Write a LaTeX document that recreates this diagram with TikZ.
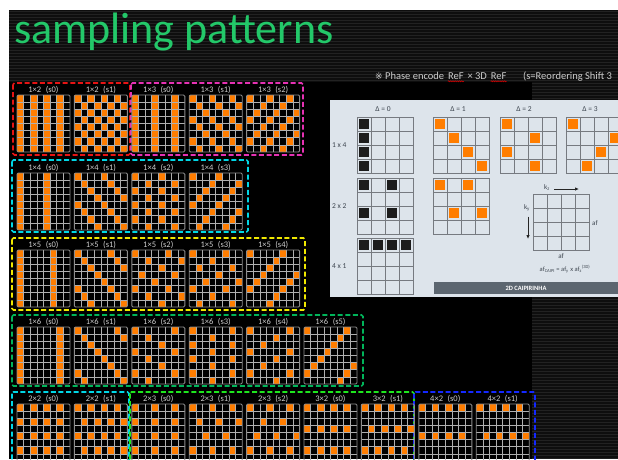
\documentclass[tikz,border=0pt]{standalone}
\usepackage{fontspec}
\setmainfont{Carlito}
\newfontfamily\symfont{DejaVu Sans}
\usetikzlibrary{arrows.meta,decorations.pathmorphing}

\definecolor{stripeA}{RGB}{14,14,14}
\definecolor{stripeB}{RGB}{34,34,34}
\definecolor{titlegreen}{RGB}{35,200,105}
\definecolor{smporange}{RGB}{255,125,0}
\definecolor{gridgray}{RGB}{175,175,175}
\definecolor{gridedge}{RGB}{140,140,140}
\definecolor{labgray}{RGB}{205,205,205}
\definecolor{boxred}{RGB}{230,20,20}
\definecolor{boxmagenta}{RGB}{230,50,180}
\definecolor{boxcyan}{RGB}{0,215,230}
\definecolor{boxyellow}{RGB}{240,232,0}
\definecolor{boxgreen}{RGB}{0,180,90}
\definecolor{boxlime}{RGB}{30,230,30}
\definecolor{boxblue}{RGB}{20,40,255}
\definecolor{panelbg}{RGB}{221,228,235}
\definecolor{panelline}{RGB}{118,122,128}
\definecolor{paneltext}{RGB}{60,68,78}
\definecolor{cellblack}{RGB}{28,28,28}
\definecolor{barfill}{RGB}{92,102,112}

% cell size of the 8x8 sampling grids
\def\cwd{6.625}
\def\cht{7.125}

% 8x8 sampling grid: #1 x, #2 y (top left), #3 row step, #4 column step, #5 shift, #6 caption
\newcommand\sgrid[6]{%
  \begin{scope}[shift={(#1,#2)}]
    \foreach \r in {0,...,7}{
      \foreach \c in {0,...,7}{
        \pgfmathtruncatemacro\hit{(mod(\r,#3)==0) && (mod(\c-#5*int(\r/#3)+60,#4)==0)}
        \ifnum\hit=1 \fill[smporange] (\c*\cwd,\r*\cht) rectangle ++(\cwd,\cht);\fi
      }}
    \foreach \k in {1,...,7}{
      \draw[gline] (\k*\cwd,0) -- (\k*\cwd,8*\cht);
      \draw[gline] (0,\k*\cht) -- (8*\cwd,\k*\cht);
    }
    \draw[gedge] (0,0) rectangle (8*\cwd,8*\cht);
    \node[glab] at (4*\cwd,-3) {#6};
  \end{scope}}

% 4x4 grid of the right-hand panel: #1 x, #2 y, #3 fill colour, #4 filled cells row/col
\newcommand\qgrid[4]{%
  \begin{scope}[shift={(#1,#2)}]
    \foreach \r/\c in {#4}{\fill[#3] (\c*14+1.8,\r*14+1.8) rectangle ++(10.4,10.4);}
    \foreach \k in {1,2,3}{
      \draw[qline] (\k*14,0) -- (\k*14,56);
      \draw[qline] (0,\k*14) -- (56,\k*14);
    }
    \draw[qline] (0,0) rectangle (56,56);
  \end{scope}}

\begin{document}
\begin{tikzpicture}[x=1pt,y=-1pt,
  gline/.style={gridgray,line width=0.6pt},
  gedge/.style={gridedge,line width=0.9pt,rounded corners=1.2pt},
  glab/.style={anchor=base,text=labgray,inner sep=0pt,font=\fontsize{8.5}{9}\selectfont},
  groupbox/.style={line width=1.6pt,dash pattern=on 5pt off 2.6pt,rounded corners=1.5pt},
  qline/.style={panelline,line width=1pt},
  ptext/.style={text=paneltext,inner sep=0pt,font=\fontsize{7.5}{8}\selectfont},
  ntext/.style={anchor=base west,text=labgray,inner sep=0pt,font=\fontsize{10.5}{12}\selectfont},
  spell/.style={red!85!black,line width=0.5pt,decorate,decoration={snake,amplitude=0.55pt,segment length=2.2pt}}]

\useasboundingbox (0,0) rectangle (618,459);
\clip (0,0) rectangle (618,459);

% page, striped backdrop and black content area
\fill[white] (0,0) rectangle (618,459);
\fill[stripeA] (9,10) rectangle (618,459);
\foreach \yy in {11,14,...,459}{\draw[stripeB,line width=1pt] (9,\yy) -- (618,\yy);}
\fill[black] (9,82) rectangle (532,459);

% title
\node[anchor=base west,text=titlegreen,inner sep=0pt,font=\fontsize{44}{44}\selectfont] (title) at (14,43) {sampling patterns};

% note line
\node[ntext] (n1) at (375,79.5) {{\symfont\fontsize{9}{10}\selectfont ※} Phase encode};
\node[ntext] (r1) at ([xshift=3.5pt]n1.base east) {ReF};
\node[ntext] (n2) at ([xshift=3.5pt]r1.base east) {× 3D};
\node[ntext] (r2) at ([xshift=3.5pt]n2.base east) {ReF};
\node[ntext] (n3) at (523,79.5) {(s=Reordering Shift 3};
\draw[spell] ([yshift=-1.8pt]r1.base west) -- ([yshift=-1.8pt]r1.base east);
\draw[spell] ([yshift=-1.8pt]r2.base west) -- ([yshift=-1.8pt]r2.base east);

% group frames
\draw[groupbox,boxred] (13,83) rectangle (130,155);
\draw[groupbox,boxmagenta] (131,83) rectangle (303,155);
\draw[groupbox,boxcyan] (12,160) rectangle (248,232);
\draw[groupbox,boxyellow] (12,238) rectangle (305,310);
\draw[groupbox,boxgreen] (12,315) rectangle (363,386);
\draw[groupbox,boxcyan] (12,392) rectangle (129,470);
\draw[groupbox,boxlime] (130,392) rectangle (414,470);
\draw[groupbox,boxblue] (414,392) rectangle (535,470);

% sampling grids, one row per group
\foreach \i/\ry/\rz/\sh in {0/1/2/0,1/1/2/1,2/1/3/0,3/1/3/1,4/1/3/2}{
  \pgfmathsetmacro\xx{17+57.4*\i}
  \sgrid{\xx}{95}{\ry}{\rz}{\sh}{\ry×\rz\hspace{4.5pt}(s\sh)}}
\foreach \i/\ry/\rz/\sh in {0/1/4/0,1/1/4/1,2/1/4/2,3/1/4/3}{
  \pgfmathsetmacro\xx{17+57.4*\i}
  \sgrid{\xx}{173}{\ry}{\rz}{\sh}{\ry×\rz\hspace{4.5pt}(s\sh)}}
\foreach \i/\ry/\rz/\sh in {0/1/5/0,1/1/5/1,2/1/5/2,3/1/5/3,4/1/5/4}{
  \pgfmathsetmacro\xx{17+57.4*\i}
  \sgrid{\xx}{250}{\ry}{\rz}{\sh}{\ry×\rz\hspace{4.5pt}(s\sh)}}
\foreach \i/\ry/\rz/\sh in {0/1/6/0,1/1/6/1,2/1/6/2,3/1/6/3,4/1/6/4,5/1/6/5}{
  \pgfmathsetmacro\xx{17+57.4*\i}
  \sgrid{\xx}{327}{\ry}{\rz}{\sh}{\ry×\rz\hspace{4.5pt}(s\sh)}}
\foreach \i/\ry/\rz/\sh in {0/2/2/0,1/2/2/1,2/2/3/0,3/2/3/1,4/2/3/2,5/3/2/0,6/3/2/1,7/4/2/0,8/4/2/1}{
  \pgfmathsetmacro\xx{17+57.4*\i}
  \sgrid{\xx}{404}{\ry}{\rz}{\sh}{\ry×\rz\hspace{4.5pt}(s\sh)}}

% 2D CAIPIRINHA panel
\fill[panelbg] (330,100) rectangle (618,297);
\node[ptext,anchor=base] (d0) at (383,111) {Δ = 0};
\node[ptext,anchor=base] (d1) at (458,111) {Δ = 1};
\node[ptext,anchor=base] (d2) at (524,111) {Δ = 2};
\node[ptext,anchor=base] (d3) at (590,111) {Δ = 3};
\node[ptext,anchor=base west] (p14) at (332,147.5) {1 x 4};
\node[ptext,anchor=base west] (p22) at (332,208.5) {2 x 2};
\node[ptext,anchor=base west] (p41) at (332,268.5) {4 x 1};

\qgrid{357}{117}{cellblack}{0/0,1/0,2/0,3/0}
\qgrid{433}{117}{smporange}{0/0,1/1,2/2,3/3}
\qgrid{500}{117}{smporange}{0/0,1/2,2/0,3/2}
\qgrid{566}{117}{smporange}{0/0,1/3,2/2,3/1}
\qgrid{357}{178}{cellblack}{0/0,0/2,2/0,2/2}
\qgrid{433}{178}{smporange}{0/0,0/2,2/1,2/3}
\qgrid{357}{238}{cellblack}{0/0,0/1,0/2,0/3}

% k-space axes and acceleration factors
\begin{scope}[shift={(533,194)}]
  \foreach \k in {1,2,3}{
    \draw[qline] (\k*14,0) -- (\k*14,56);
    \draw[qline] (0,\k*14) -- (56,\k*14);
  }
  \draw[qline] (0,0) rectangle (56,56);
\end{scope}
\node[ptext,font=\fontsize{7}{8}\selectfont] (kz) at (547,188) {k\textsubscript{z}};
\coordinate (kzend) at (579,189);
\draw[-{Latex[length=4pt,width=3.5pt]},line width=0.8pt,black!85] ([xshift=4pt]kz.east |- kzend) -- (kzend);
\node[ptext,font=\fontsize{7}{8}\selectfont] (ky) at (527,208) {k\textsubscript{y}};
\coordinate (kyend) at (528,239);
\draw[-{Latex[length=4pt,width=3.5pt]},line width=0.8pt,black!85] ([yshift=-5pt]ky.south -| kyend) -- (kyend);
\node[ptext,anchor=west,font=\fontsize{7}{8}\selectfont] (afr) at (592,223) {af};
\node[ptext,font=\fontsize{7}{8}\selectfont] (afb) at (561,256) {af};
\node[ptext,font=\fontsize{6.5}{7}\selectfont] (afc) at (565,269) {af\textsubscript{CAIPI} = af\textsubscript{y} x af\textsubscript{z}\textsuperscript{(3D)}};

\fill[barfill] (434,282) rectangle (618,294);
\node[text=white,inner sep=0pt,font=\bfseries\fontsize{6.5}{7}\selectfont] (bar) at (526,288) {2D CAIPIRINHA};

\end{tikzpicture}
\end{document}
